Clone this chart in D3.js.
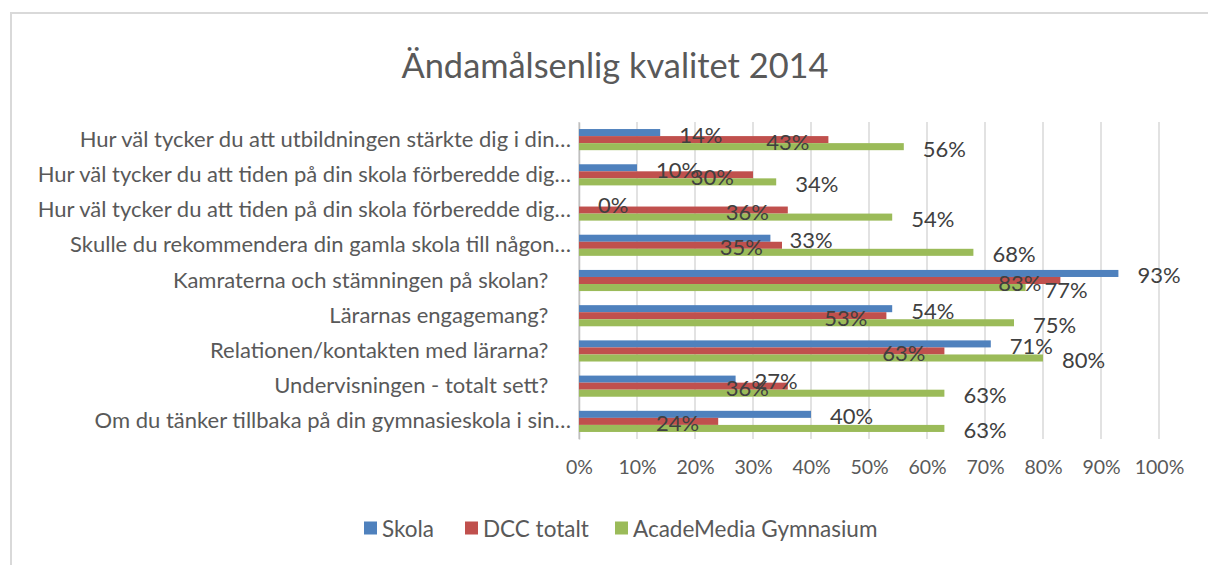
<!DOCTYPE html>
<html>
<head>
<meta charset="utf-8">
<script src="https://cdn.jsdelivr.net/npm/d3@7"></script>
<style>
  body { margin: 0; background: #fff; }
  text { font-family: Lato, "Open Sans", sans-serif; white-space: pre; }
</style>
</head>
<body>
<script>
//DATA
const categories = [
    "Hur väl tycker du att utbildningen stärkte dig i din…",
    "Hur väl tycker du att tiden på din skola förberedde dig…",
    "Hur väl tycker du att tiden på din skola förberedde dig…",
    "Skulle du rekommendera din gamla skola till någon…",
    "Kamraterna och stämningen på skolan?    ",
    "Lärarnas engagemang?    ",
    "Relationen/kontakten med lärarna?    ",
    "Undervisningen - totalt sett?    ",
    "Om du tänker tillbaka på din gymnasieskola i sin…"
]
const seriesNames = ["Skola", "DCC totalt", "AcadeMedia Gymnasium"]
const skola = [14, 10, 0, 33, 93, 54, 71, 27, 40]
const dccTotalt = [43, 30, 36, 35, 83, 53, 63, 36, 24]
const academedia = [56, 34, 54, 68, 77, 75, 80, 63, 63]
const xTicks = [0, 10, 20, 30, 40, 50, 60, 70, 80, 90, 100]
const title = "Ändamålsenlig kvalitet 2014"

//USEFUL VARIABLES
const svgwidth = 1208
const svgheight = 565
const margin = { top: 122, right: 49, bottom: 126, left: 579 }
const graphwidth = svgwidth - (margin.left + margin.right)
const graphheight = svgheight - (margin.top + margin.bottom)
const colors = ["#4f81bd", "#c0504d", "#9bbb59"]

const series = [skola, dccTotalt, academedia]
const rows = categories.map((c, i) => ({
    key: i,
    name: c,
    values: series.map((s, j) => ({ series: j, value: s[i] }))
}))

const svg = d3.select("body").append("svg")
    .attr("width", svgwidth)
    .attr("height", svgheight)

//CHART FRAME
svg.append("path")
    .attr("d", `M11,${svgheight} V13 H${svgwidth}`)
    .attr("fill", "none")
    .attr("stroke", "#d9d9d9")
    .attr("stroke-width", 2)

//TITLE
svg.append("text")
    .attr("x", 615)
    .attr("y", 64)
    .attr("text-anchor", "middle")
    .attr("dominant-baseline", "central")
    .style("font-size", "34.4px")
    .style("fill", "#595959")
    .text(title)

const graph = svg.append("g")
    .attr("transform", `translate(${margin.left}, ${margin.top})`)

//SCALES
const X = d3.scaleLinear().domain([0, 100]).range([0, graphwidth])
const Y = d3.scaleBand()
    .domain(rows.map(d => d.key))
    .range([0, graphheight])
    .paddingInner(0.4)
    .paddingOuter(0.2)
const Ysub = d3.scaleBand()
    .domain([0, 1, 2])
    .range([0, Y.bandwidth()])

//GRIDLINES
graph.append("g").selectAll("line")
    .data(xTicks)
    .enter().append("line")
    .attr("x1", d => X(d))
    .attr("x2", d => X(d))
    .attr("y1", 0)
    .attr("y2", graphheight)
    .attr("stroke", "#d9d9d9")
    .attr("stroke-width", 1.5)

//X AXIS LABELS
const xaxis = graph.append("g")
    .attr("transform", `translate(0, ${graphheight})`)
    .call(d3.axisBottom(X).tickValues(xTicks).tickFormat(d => d + "%").tickSize(0).tickPadding(21))
xaxis.select(".domain").remove()
xaxis.selectAll("text")
    .style("font-size", "19.5px")
    .style("font-family", "Lato, sans-serif")
    .attr("fill", "#595959")

//Y AXIS (CATEGORIES)
const yaxis = graph.append("g")
    .call(d3.axisLeft(Y).tickFormat(i => categories[i]).tickSize(0).tickPadding(8))
yaxis.select(".domain").attr("stroke", "#bfbfbf").attr("stroke-width", 1.5)
yaxis.selectAll("text")
    .style("font-size", "22px")
    .style("font-family", "Lato, sans-serif")
    .attr("fill", "#595959")

//BARS
const groups = graph.selectAll(".row").data(rows)
    .enter().append("g").classed("row", true)
    .attr("transform", d => `translate(0, ${Y(d.key)})`)

groups.selectAll("rect")
    .data(d => d.values)
    .enter().append("rect")
    .attr("x", 0)
    .attr("y", d => Ysub(d.series))
    .attr("width", d => X(d.value))
    .attr("height", Ysub.bandwidth())
    .attr("fill", d => colors[d.series])

//DATA LABELS
groups.selectAll(".lbl")
    .data(d => d.values)
    .enter().append("text").classed("lbl", true)
    .attr("x", d => d.series == 1 ? X(d.value) - 19 : X(d.value) + 19)
    .attr("y", d => Ysub(d.series) + Ysub.bandwidth() / 2 + 1.5)
    .attr("text-anchor", d => d.series == 1 ? "end" : "start")
    .attr("dominant-baseline", "central")
    .style("font-size", "22px")
    .style("fill", "#404040")
    .text(d => d.value + "%")

//LEGEND
const legendX = [364, 465, 615]
const legend = svg.append("g").classed("legend", true)
    .attr("transform", "translate(0, 528)")
const items = legend.selectAll("g")
    .data(seriesNames)
    .enter().append("g")
    .attr("transform", (d, i) => `translate(${legendX[i]}, 0)`)
items.append("rect")
    .attr("x", 0)
    .attr("y", -6.5)
    .attr("width", 13)
    .attr("height", 13)
    .attr("fill", (d, i) => colors[i])
items.append("text")
    .attr("x", 18)
    .attr("y", 0)
    .attr("dominant-baseline", "central")
    .style("font-size", "22.5px")
    .style("fill", "#595959")
    .text(d => d)
</script>
</body>
</html>
